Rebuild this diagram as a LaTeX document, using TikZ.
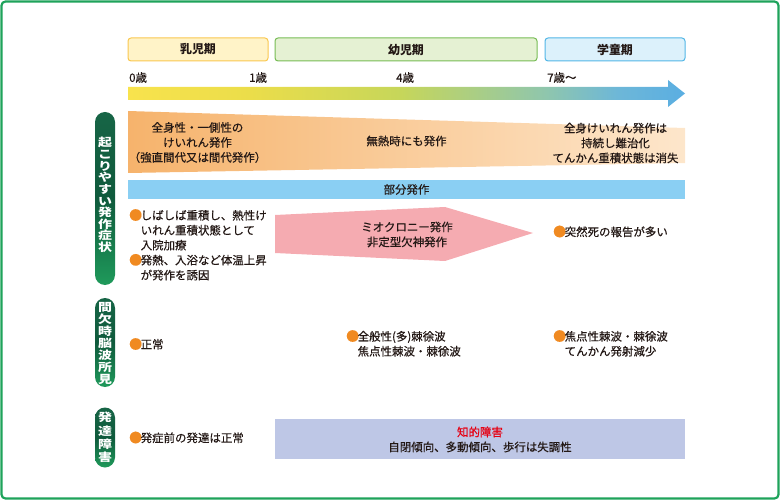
\documentclass[tikz,border=0pt]{standalone}
\usepackage{fontspec}
\setmainfont{Noto Sans CJK JP}
\newfontfamily\bodyfam{Noto Sans CJK JP}[FakeBold=0.5]
\definecolor{frameg}{HTML}{1FA35B}
\definecolor{txt}{HTML}{231815}
\definecolor{bul}{HTML}{F08A21}
\definecolor{pAf}{HTML}{FFF3C8}\definecolor{pAd}{HTML}{F9C74F}
\definecolor{pBf}{HTML}{E5F1D3}\definecolor{pBd}{HTML}{77BC55}
\definecolor{pCf}{HTML}{DCF1FB}\definecolor{pCd}{HTML}{52B6E6}
\definecolor{orL}{HTML}{F6B36C}\definecolor{orR}{HTML}{FDE6CB}
\definecolor{blueb}{HTML}{8ACFF3}
\definecolor{pinkf}{HTML}{F5ABB1}
\definecolor{lav}{HTML}{BEC7E6}
\definecolor{redt}{HTML}{E60012}
\definecolor{tabT}{HTML}{176546}\definecolor{tabM}{HTML}{0F5A3C}\definecolor{tabB}{HTML}{1F9A5B}
\definecolor{tlA}{HTML}{F8E34D}\definecolor{tlB}{HTML}{EBDD4A}
\definecolor{tlC}{HTML}{C6D65A}\definecolor{tlD}{HTML}{8FC6AD}
\definecolor{tlE}{HTML}{6DB7D8}\definecolor{tlF}{HTML}{5AAEE2}
\pgfdeclarehorizontalshading{timeline}{100bp}{color(0bp)=(tlA); color(25bp)=(tlA); color(36bp)=(tlB); color(49.5bp)=(tlC); color(62.5bp)=(tlD); color(69bp)=(tlE); color(75bp)=(tlF); color(100bp)=(tlF)}
\newcommand\bodyf{\bodyfam\fontsize{11.5}{15}\selectfont}
\newcommand\bl{\makebox[11.5bp][l]{\raisebox{-0.3bp}{\fontsize{13}{15}\selectfont\color{bul}●}}}
\newcommand\ind{\hspace*{11.5bp}}
\newcommand\vstack[2]{\scalebox{1}[0.8]{\fontsize{14}{#1}\selectfont\bfseries\vbox{\hsize=16bp\lineskiplimit=-50bp\parindent=0pt\centering #2\par}}}
\begin{document}
\begin{tikzpicture}[x=1bp,y=-1bp,
  txtn/.style={font=\bodyf, text=txt, align=center, inner sep=0pt},
  bulln/.style={font=\bodyf, text=txt, align=left, inner sep=0pt, anchor=north west},
  period/.style={rounded corners=3bp, line width=1bp, minimum height=23bp, inner sep=0pt, font=\fontsize{12}{14}\selectfont\bfseries, text=txt},
  tab/.style={rounded corners=10bp, minimum width=20bp, inner sep=0pt, top color=tabT, bottom color=tabB, middle color=tabM},
  tabtxt/.style={inner sep=0pt, text=white},
  age/.style={font=\bodyf, text=txt, inner sep=0pt, anchor=west}]
\useasboundingbox (0,0) rectangle (780,500);
\draw[frameg, line width=2.2bp, rounded corners=4bp] (1.5,1.5) rectangle (778.5,498.5);
% periods
\node[period, draw=pAd, fill=pAf, minimum width=140bp] (pa) at (198,49.5) {乳児期};
\node[period, draw=pBd, fill=pBf, minimum width=262bp] (pb) at (406,49.5) {幼児期};
\node[period, draw=pCd, fill=pCf, minimum width=140bp] (pc) at (615,49.5) {学童期};
% ages
\node[age] (a0) at (129,77.5) {0歳};
\node[age] (a1) at (249,77.5) {1歳};
\node[age] (a4) at (396,77.5) {4歳};
\node[age] (a7) at (547,77.5) {7歳〜};
% timeline arrow
\path[shading=timeline] (128,87) -- (668,87) -- (668,80) -- (685,93.5) -- (668,107) -- (668,100) -- (128,100) -- cycle;
% orange trapezoid
\shade[left color=orL, right color=orR] (128,111) -- (685,128) -- (685,163) -- (128,173) -- cycle;
\node[txtn] (g1) at (197.5,142.5) {全身性・一側性の\\けいれん発作\\（強直間代又は間代発作）};
\node[txtn] (g2) at (406.5,141) {無熱時にも発作};
\node[txtn] (g3) at (615.5,143) {全身けいれん発作は\\持続し難治化\\てんかん重積状態は消失};
% partial seizure bar
\fill[blueb] (128,180) rectangle (685,199);
\node[txtn] (bu) at (406.5,189.5) {部分発作};
% pink pentagon
\fill[pinkf] (275,215) -- (445,207) -- (533,233) -- (445,261) -- (275,253) -- cycle;
\node[txtn] (pk) at (407,234.5) {ミオクロニー発作\\非定型欠神発作};
% bullets
\node[bulln] (b1) at (129,209) {\bl しばしば重積し、熱性け\\\ind いれん重積状態として\\\ind 入院加療\\\bl 発熱、入浴など体温上昇\\\ind が発作を誘因};
\node[bulln] (b2) at (553,225.5) {\bl 突然死の報告が多い};
\node[bulln] (b3) at (129,338) {\bl 正常};
\node[bulln] (b4) at (346,330) {\bl 全般性(多)棘徐波\\\ind 焦点性棘波・棘徐波};
\node[bulln] (b5) at (553,330) {\bl 焦点性棘波・棘徐波\\\ind てんかん発射減少};
\node[bulln] (b6) at (129,431.5) {\bl 発症前の発達は正常};
% lavender box
\fill[lav] (275,419) rectangle (685,459);
\node[txtn] (dv) at (480,439.5) {{\color{redt}知的障害}\\自閉傾向、多動傾向、歩行は失調性};
% tabs
\node[tab, minimum height=173bp] (t1) at (105,198.5) {};
\node[tabtxt] (t1l) at (105,195) {\vstack{14.6}{起\\こ\\り\\や\\す\\い\\発\\作\\症\\状}};
\node[tab, minimum height=89bp] (t2) at (105,342.5) {};
\node[tabtxt] (t2l) at (105,343.5) {\vstack{15.2}{間\\欠\\時\\脳\\波\\所\\見}};
\node[tab, minimum height=60bp] (t3) at (105,437.5) {};
\node[tabtxt] (t3l) at (105,437.5) {\vstack{16.6}{発\\達\\障\\害}};
\end{tikzpicture}
\end{document}
